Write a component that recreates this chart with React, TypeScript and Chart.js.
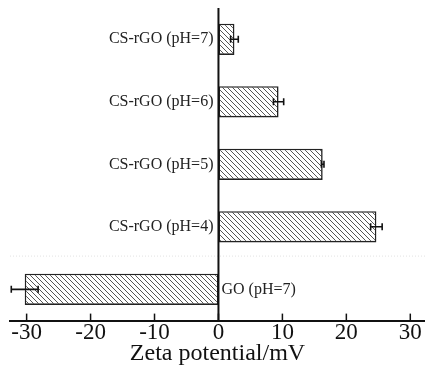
import { useEffect, useRef } from 'react';
import { Chart, registerables } from 'chart.js';
Chart.register(...registerables);

const categories = ['CS-rGO (pH=7)', 'CS-rGO (pH=6)', 'CS-rGO (pH=5)', 'CS-rGO (pH=4)', 'GO (pH=7)'];
const zetaValues = [2.5, 9.4, 16.3, 24.7, -30.3];
const zetaErrors = [0.6, 0.8, 0.2, 0.9, 2.1];
const axisTitle = 'Zeta potential/mV';

const FONT = "'Liberation Serif', 'Times New Roman', serif";

function makeHatch(): CanvasPattern | string {
  const s = 5;
  const c = document.createElement('canvas');
  c.width = s;
  c.height = s;
  const g = c.getContext('2d');
  if (!g) return '#fff';
  g.fillStyle = '#fff';
  g.fillRect(0, 0, s, s);
  g.strokeStyle = '#555';
  g.lineWidth = 1;
  g.beginPath();
  g.moveTo(0, 0);
  g.lineTo(s, s);
  g.moveTo(-1, s - 1);
  g.lineTo(1, s + 1);
  g.moveTo(s - 1, -1);
  g.lineTo(s + 1, 1);
  g.stroke();
  return g.createPattern(c, 'repeat') || '#fff';
}

const decorPlugin = {
  id: 'decor',
  beforeDatasetsDraw(chart: any) {
    const { ctx, chartArea, scales } = chart;
    const y = scales.y;
    const ym = (y.getPixelForValue(3) + y.getPixelForValue(4)) / 2 - 2;
    ctx.save();
    ctx.strokeStyle = '#e2e2e2';
    ctx.lineWidth = 1;
    ctx.setLineDash([1, 2]);
    ctx.beginPath();
    ctx.moveTo(chartArea.left, ym);
    ctx.lineTo(chartArea.right, ym);
    ctx.stroke();
    ctx.restore();
  },
  afterDatasetsDraw(chart: any) {
    const { ctx, chartArea, scales } = chart;
    const x = scales.x;
    const y = scales.y;
    const x0 = x.getPixelForValue(0);
    ctx.save();
    ctx.strokeStyle = '#111';
    ctx.lineWidth = 2;
    ctx.beginPath();
    ctx.moveTo(x0, chartArea.top);
    ctx.lineTo(x0, chartArea.bottom);
    ctx.stroke();
    ctx.lineWidth = 1.6;
    zetaValues.forEach((v, i) => {
      const py = y.getPixelForValue(i);
      const a = x.getPixelForValue(v - zetaErrors[i]);
      const b = x.getPixelForValue(v + zetaErrors[i]);
      ctx.beginPath();
      ctx.moveTo(a, py);
      ctx.lineTo(b, py);
      ctx.moveTo(a, py - 3.5);
      ctx.lineTo(a, py + 3.5);
      ctx.moveTo(b, py - 3.5);
      ctx.lineTo(b, py + 3.5);
      ctx.stroke();
    });
    ctx.lineWidth = 1.5;
    x.ticks.forEach((t: any) => {
      const px = x.getPixelForValue(t.value);
      ctx.beginPath();
      ctx.moveTo(px, chartArea.bottom);
      ctx.lineTo(px, chartArea.bottom - 7);
      ctx.stroke();
    });
    ctx.fillStyle = '#222';
    ctx.font = `16px ${FONT}`;
    ctx.textBaseline = 'middle';
    categories.forEach((c, i) => {
      const py = y.getPixelForValue(i);
      if (zetaValues[i] >= 0) {
        ctx.textAlign = 'right';
        ctx.fillText(c, x0 - 5, py);
      } else {
        ctx.textAlign = 'left';
        ctx.fillText(c, x0 + 3, py);
      }
    });
    ctx.restore();
  },
};

export default function App() {
  const ref = useRef<HTMLCanvasElement | null>(null);
  useEffect(() => {
    document.body.style.margin = '0';
    if (!ref.current) return;
    const chart = new Chart(ref.current, {
      type: 'bar',
      data: {
        labels: categories,
        datasets: [
          {
            data: zetaValues,
            backgroundColor: makeHatch() as any,
            borderColor: '#222',
            borderWidth: 1.6,
            borderSkipped: false,
            barPercentage: 0.5,
            categoryPercentage: 1,
          },
        ],
      },
      options: {
        indexAxis: 'y',
        animation: false,
        responsive: false,
        layout: { padding: { top: 8, left: 10, right: 0, bottom: 6 } },
        plugins: {
          legend: { display: false },
          tooltip: { enabled: false },
        },
        scales: {
          y: {
            display: false,
            offset: true,
          },
          x: {
            min: -32.6,
            max: 32.3,
            grid: { display: false, drawTicks: false },
            border: { display: true, color: '#111', width: 2 },
            ticks: {
              stepSize: 10,
              includeBounds: false,
              color: '#111',
              padding: -1,
              font: { family: FONT, size: 23 },
            },
            title: {
              display: true,
              text: axisTitle,
              color: '#111',
              font: { family: FONT, size: 24 },
              padding: { top: -7, bottom: 0 },
            },
          },
        },
      },
      plugins: [decorPlugin],
    });
    return () => chart.destroy();
  }, []);
  return <canvas ref={ref} width={425} height={374} style={{ display: 'block' }} />;
}
